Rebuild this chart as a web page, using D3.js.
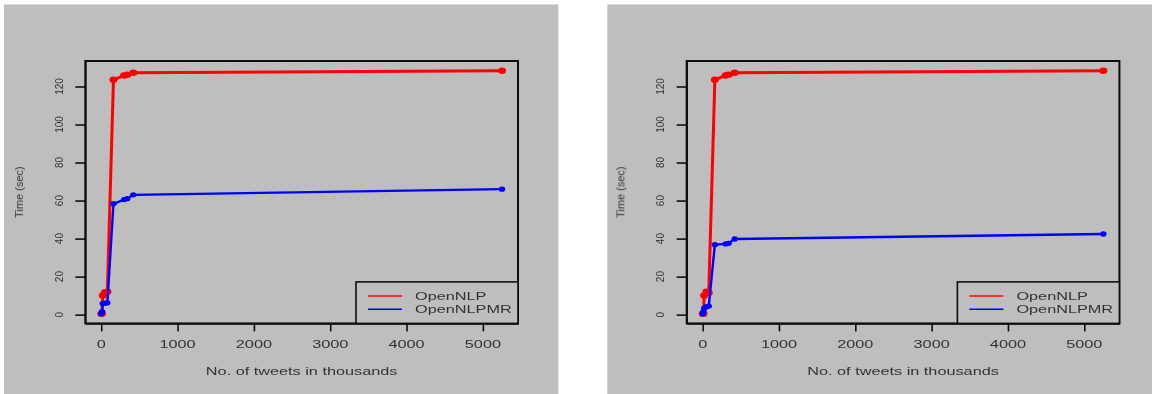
<!DOCTYPE html>
<html>
<head>
<meta charset="utf-8">
<script src="https://cdn.jsdelivr.net/npm/d3@7"></script>
<style>
  body { margin: 0; background: #fff; }
  svg { display: block; }
  text { font-family: "Liberation Sans", Arial, sans-serif; fill: #333; }
</style>
</head>
<body>
<svg id="chart" width="1152" height="394"></svg>
<script>
// tweets in thousands
const tweets = [1, 10, 20, 50, 80, 160, 300, 340, 420, 5250];

// left panel
const openNLP1 = [0.5, 0.6, 10, 11.8, 12, 123.5, 125.8, 126.2, 127.2, 128.3];
const openNLPMR1 = [0.5, 1.6, 5.8, 6, 6.2, 58.3, 60.5, 61, 63, 66];

// right panel
const openNLP2 = [0.5, 0.6, 10, 12, 11.5, 123.5, 125.8, 126.2, 127.2, 128.3];
const openNLPMR2 = [0.5, 1.5, 3.4, 4.2, 4.5, 36.8, 37.2, 37.5, 39.8, 42.4];

const xTicks = [0, 1000, 2000, 3000, 4000, 5000];
const yTicks = [0, 20, 40, 60, 80, 100, 120];
const seriesNames = ["OpenNLP", "OpenNLPMR"];
const seriesColors = ["#ff0000", "#0000ff"];

const svg = d3.select("#chart");
const stretch = 1.48;

const defs = svg.append("defs");
defs.append("filter").attr("id", "soft")
  .append("feGaussianBlur").attr("stdDeviation", 0.6);

// R-style 4% padding of the data range
function padded(vals) {
  const lo = d3.min(vals), hi = d3.max(vals), p = (hi - lo) * 0.04;
  return [lo - p, hi + p];
}

function panel(offset, bg, red, blue) {
  // gray figure background
  svg.append("rect")
    .attr("x", bg[0]).attr("y", 4.5)
    .attr("width", bg[1] - bg[0]).attr("height", 394 - 4.5)
    .attr("fill", "#bebebe");

  const g = svg.append("g").attr("filter", "url(#soft)");

  const left = 85.3 + offset, right = 518 + offset;
  const top = 61, bottom = 323.4;

  const x = d3.scaleLinear().domain(padded(tweets)).range([left, right]);
  const y = d3.scaleLinear().domain(padded(red.concat(blue))).range([bottom, top]);

  // x axis
  const xa = g.append("g").attr("transform", `translate(0,${bottom})`)
    .call(d3.axisBottom(x).tickValues(xTicks).tickSize(8).tickSizeOuter(0).tickFormat(d3.format("d")));
  xa.select(".domain").attr("stroke", "#111").attr("stroke-width", 1.6);
  xa.selectAll(".tick line").attr("stroke", "#111").attr("stroke-width", 1.6);
  xa.selectAll(".tick text").remove();
  xTicks.forEach(t => {
    g.append("text")
      .attr("transform", `translate(${x(t)},348) scale(${stretch},1)`)
      .attr("text-anchor", "middle").attr("font-size", 11).text(t);
  });

  // y axis
  const ya = g.append("g").attr("transform", `translate(${left},0)`)
    .call(d3.axisLeft(y).tickValues(yTicks).tickSize(10).tickSizeOuter(0));
  ya.select(".domain").attr("stroke", "#111").attr("stroke-width", 1.6);
  ya.selectAll(".tick line").attr("stroke", "#111").attr("stroke-width", 1.6);
  ya.selectAll(".tick text").remove();
  yTicks.forEach(t => {
    g.append("text")
      .attr("transform", `translate(${63 + offset},${y(t)}) rotate(-90)`)
      .attr("text-anchor", "middle").attr("font-size", 10).text(t);
  });

  // axis titles
  g.append("text")
    .attr("transform", `translate(${(left + right) / 2},375) scale(${stretch},1)`)
    .attr("text-anchor", "middle").attr("font-size", 11)
    .text("No. of tweets in thousands");
  g.append("text")
    .attr("transform", `translate(${23 + offset},${(top + bottom) / 2}) rotate(-90)`)
    .attr("text-anchor", "middle").attr("font-size", 11)
    .text("Time (sec)");

  // series
  [red, blue].forEach((vals, i) => {
    const pts = tweets.map((t, j) => [t, vals[j]]);
    const line = d3.line().x(d => x(d[0])).y(d => y(d[1]));
    g.append("path").datum(pts)
      .attr("d", line).attr("fill", "none")
      .attr("stroke", seriesColors[i]).attr("stroke-width", i === 0 ? 3 : 2.4)
      .attr("stroke-linejoin", "round");
    g.selectAll(null).data(pts).join("ellipse")
      .attr("cx", d => x(d[0])).attr("cy", d => y(d[1]))
      .attr("rx", i === 0 ? 4 : 3.2).attr("ry", i === 0 ? 3.3 : 2.7)
      .attr("fill", seriesColors[i]);
  });

  // plot box
  g.append("rect")
    .attr("x", left).attr("y", top)
    .attr("width", right - left).attr("height", bottom - top)
    .attr("fill", "none").attr("stroke", "#111").attr("stroke-width", 2);

  // legend (bottom right)
  const lg = g.append("g");
  lg.append("rect")
    .attr("x", right - 162).attr("y", bottom - 41.5)
    .attr("width", 162).attr("height", 41.5)
    .attr("fill", "#bebebe").attr("stroke", "#111").attr("stroke-width", 1.6);
  seriesNames.forEach((name, i) => {
    const ly = 296 + i * 13.3;
    lg.append("line")
      .attr("x1", right - 150).attr("x2", right - 116)
      .attr("y1", ly).attr("y2", ly)
      .attr("stroke", seriesColors[i]).attr("stroke-width", 1.6);
    lg.append("text")
      .attr("transform", `translate(${right - 103},${ly + 4}) scale(${stretch},1)`)
      .attr("font-size", 11).text(name);
  });
}

panel(0, [4, 558.3], openNLP1, openNLPMR1);
panel(601.4, [607.3, 1152], openNLP2, openNLPMR2);
</script>
</body>
</html>
